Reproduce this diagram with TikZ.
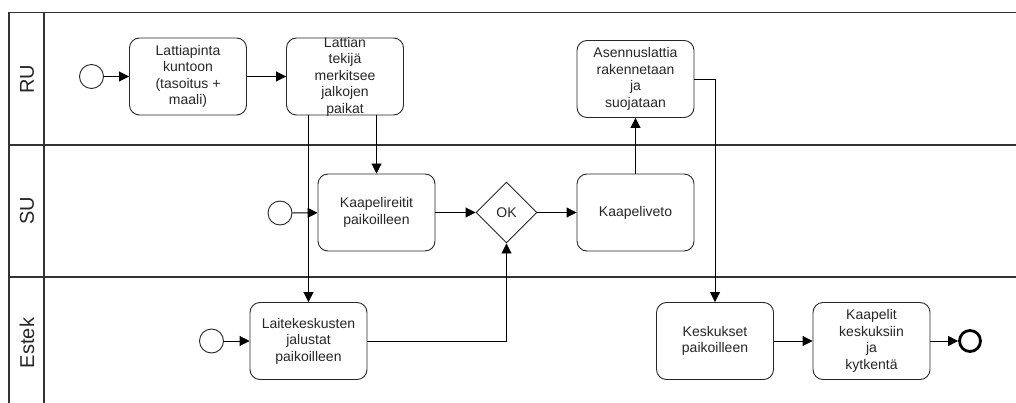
\documentclass[tikz,border=0pt]{standalone}
\usepackage{fontspec}
\setmainfont{Liberation Sans}
\usetikzlibrary{arrows.meta,shapes.geometric}
\begin{document}
\begin{tikzpicture}[x=1pt,y=-1pt,
  poolline/.style={line width=1.5pt, draw=black!80},
  task/.style={draw=black!85, line width=0.9pt, rounded corners=10pt,
    minimum width=117pt, minimum height=77pt, inner sep=0pt,
    align=center, text=black!85, font=\fontsize{14}{16.5}\selectfont},
  gateway/.style={draw=black!85, diamond, line width=0.9pt, minimum width=61pt,
    minimum height=61pt, inner sep=0pt, text=black!85,
    font=\fontsize{14}{16.5}\selectfont},
  startev/.style={circle, draw=black!85, line width=0.9pt, minimum size=24pt, inner sep=0pt},
  endev/.style={circle, draw=black, line width=2.8pt, minimum size=21pt, inner sep=0pt},
  lanelabel/.style={rotate=90, text=black!85, font=\fontsize{20}{24}\selectfont},
  flow/.style={draw=black, line width=0.9pt, -{Triangle[length=10pt,width=10pt]}},
]
\useasboundingbox (0,0) rectangle (1016,403);
\clip (0,0) rectangle (1016,403);

% pool and lanes
\draw[poolline] (1020,12.5) -- (9,12.5) -- (9,410);
\draw[poolline] (44,12.5) -- (44,410);
\draw[poolline] (9,145) -- (1020,145);
\draw[poolline] (9,277) -- (1020,277);
\node[lanelabel] (lru) at (27,79) {RU};
\node[lanelabel] (lsu) at (27,211) {SU};
\node[lanelabel] (les) at (27,343) {Estek};

% RU lane
\node[startev] (s1) at (91.5,76.5) {};
\node[task] (t1) at (188,76.5) {Lattiapinta\\kuntoon\\(tasoitus +\\maali)};
\node[task, label={[align=center, text=black!85, font=\fontsize{14}{16.5}\selectfont]center:Lattian\\tekijä\\merkitsee\\jalkojen\\paikat}] (t2) at (345,76.5) {};
\node[task] (as) at (635.5,79) {Asennuslattia\\rakennetaan\\ja\\suojataan};

% SU lane
\node[startev] (s2) at (280,213) {};
\node[task] (kr) at (376.5,212.5) {Kaapelireitit\\paikoilleen};
\node[gateway] (ok) at (506.5,212.5) {OK};
\node[task] (kv) at (635.5,212.5) {Kaapeliveto};

% Estek lane
\node[startev] (s3) at (211.5,341) {};
\node[task] (la) at (308.5,341) {Laitekeskusten\\jalustat\\paikoilleen};
\node[task] (ke) at (715,341) {Keskukset\\paikoilleen};
\node[task] (kk) at (871.5,341) {Kaapelit\\keskuksiin\\ja\\kytkentä};
\node[endev] (e1) at (970,341) {};

% sequence flows
\draw[flow] (s1) -- (t1);
\draw[flow] (t1) -- (t2);
\draw[flow] (t2.south -| la.north) -- (la.north);
\draw[flow] (t2.south -| kr.north) -- (kr.north);
\draw[flow] (s2) -- (kr);
\draw[flow] (kr) -- (ok);
\draw[flow] (ok) -- (kv);
\draw[flow] (kv.north) -- (as.south);
\draw[flow] (as.east) -| (ke.north);
\draw[flow] (s3) -- (la);
\draw[flow] (la.east) -| (ok.south);
\draw[flow] (ke) -- (kk);
\draw[flow] (kk) -- (e1);
\end{tikzpicture}
\end{document}
